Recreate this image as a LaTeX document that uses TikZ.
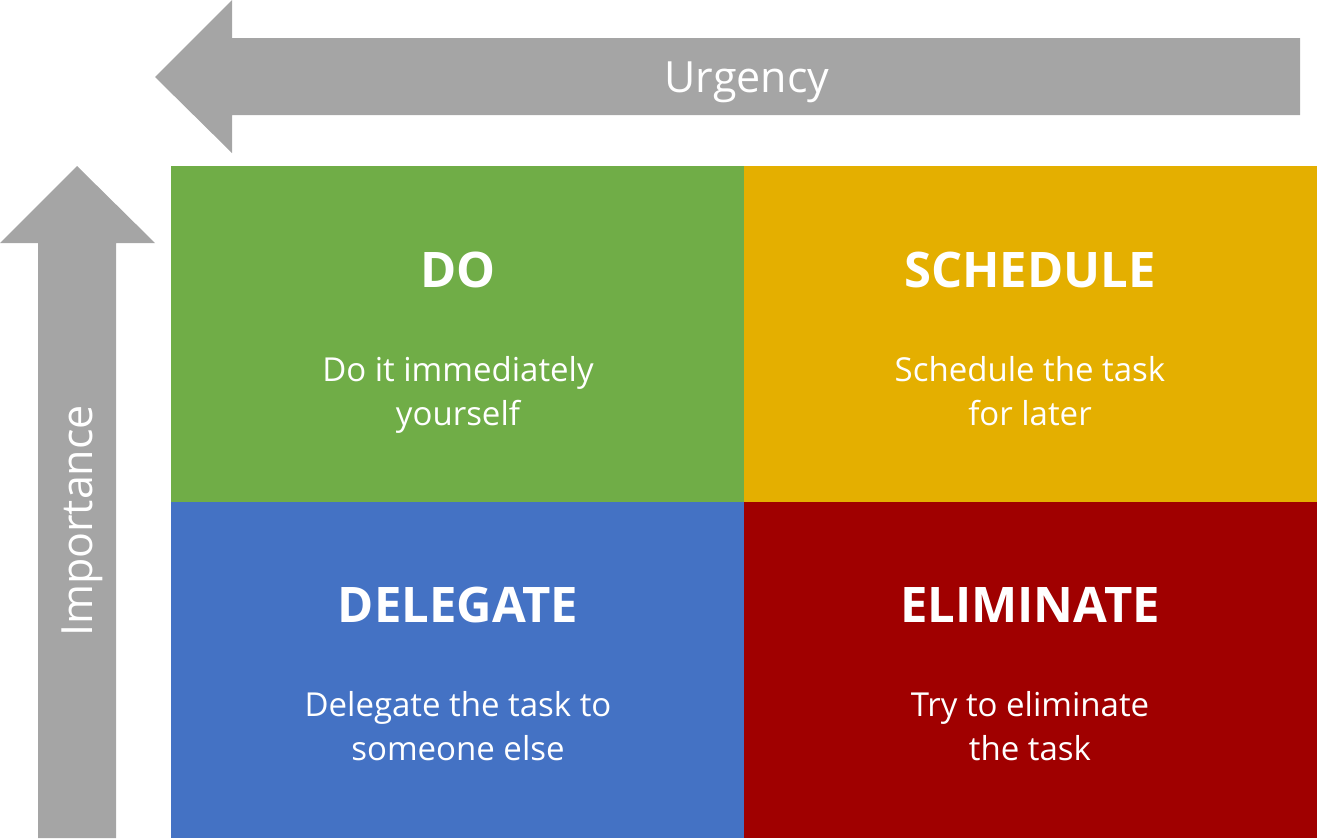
\documentclass[tikz,border=0pt]{standalone}
\usepackage{fontspec}
\setmainfont{Open Sans}
\definecolor{arrowgray}{HTML}{A5A5A5}
\definecolor{qgreen}{HTML}{70AD47}
\definecolor{qgold}{HTML}{E4AF00}
\definecolor{qblue}{HTML}{4472C4}
\definecolor{qred}{HTML}{A00000}
\tikzset{
  quad/.style={draw=none, minimum width=573pt, minimum height=336pt, inner sep=0pt, anchor=north west},
  qtitle/.style={text=white, font=\fontsize{49}{60}\selectfont\bfseries, anchor=base},
  qtext/.style={text=white, font=\fontsize{33}{44}\selectfont, align=center, anchor=north},
  axislabel/.style={text=white, font=\fontsize{43}{50}\selectfont},
}
\begin{document}
\begin{tikzpicture}[x=1pt, y=-1pt]
\useasboundingbox (0,0) rectangle (1317,838);
% horizontal arrow (urgency), pointing left
\fill[arrowgray] (155,77) -- (232,0) -- (232,38) -- (1300,38) -- (1300,115) -- (232,115) -- (232,153) -- cycle;
% vertical arrow (importance), pointing up
\fill[arrowgray] (77,166) -- (155,243) -- (116,243) -- (116,838) -- (38,838) -- (38,243) -- (0,243) -- cycle;
\node[axislabel] (urg) at (747,82) {Urgency};
\node[axislabel, rotate=90] (imp) at (82,521) {Importance};
% quadrants
\node[quad, fill=qgreen] (q1) at (171,166) {};
\node[quad, fill=qgold] (q2) at (744,166) {};
\node[quad, fill=qblue] (q3) at (171,502) {};
\node[quad, fill=qred] (q4) at (744,502) {};
% titles
\node[qtitle] (t1) at (458,287) {DO};
\node[qtitle] (t2) at (1030,287) {SCHEDULE};
\node[qtitle] (t3) at (458,622) {DELEGATE};
\node[qtitle] (t4) at (1030,622) {ELIMINATE};
% descriptions
\node[qtext] (d1) at (458,353) {Do it immediately\\yourself};
\node[qtext] (d2) at (1030,353) {Schedule the task\\for later};
\node[qtext] (d3) at (458,688) {Delegate the task to\\someone else};
\node[qtext] (d4) at (1030,688) {Try to eliminate\\the task};
\end{tikzpicture}
\end{document}
